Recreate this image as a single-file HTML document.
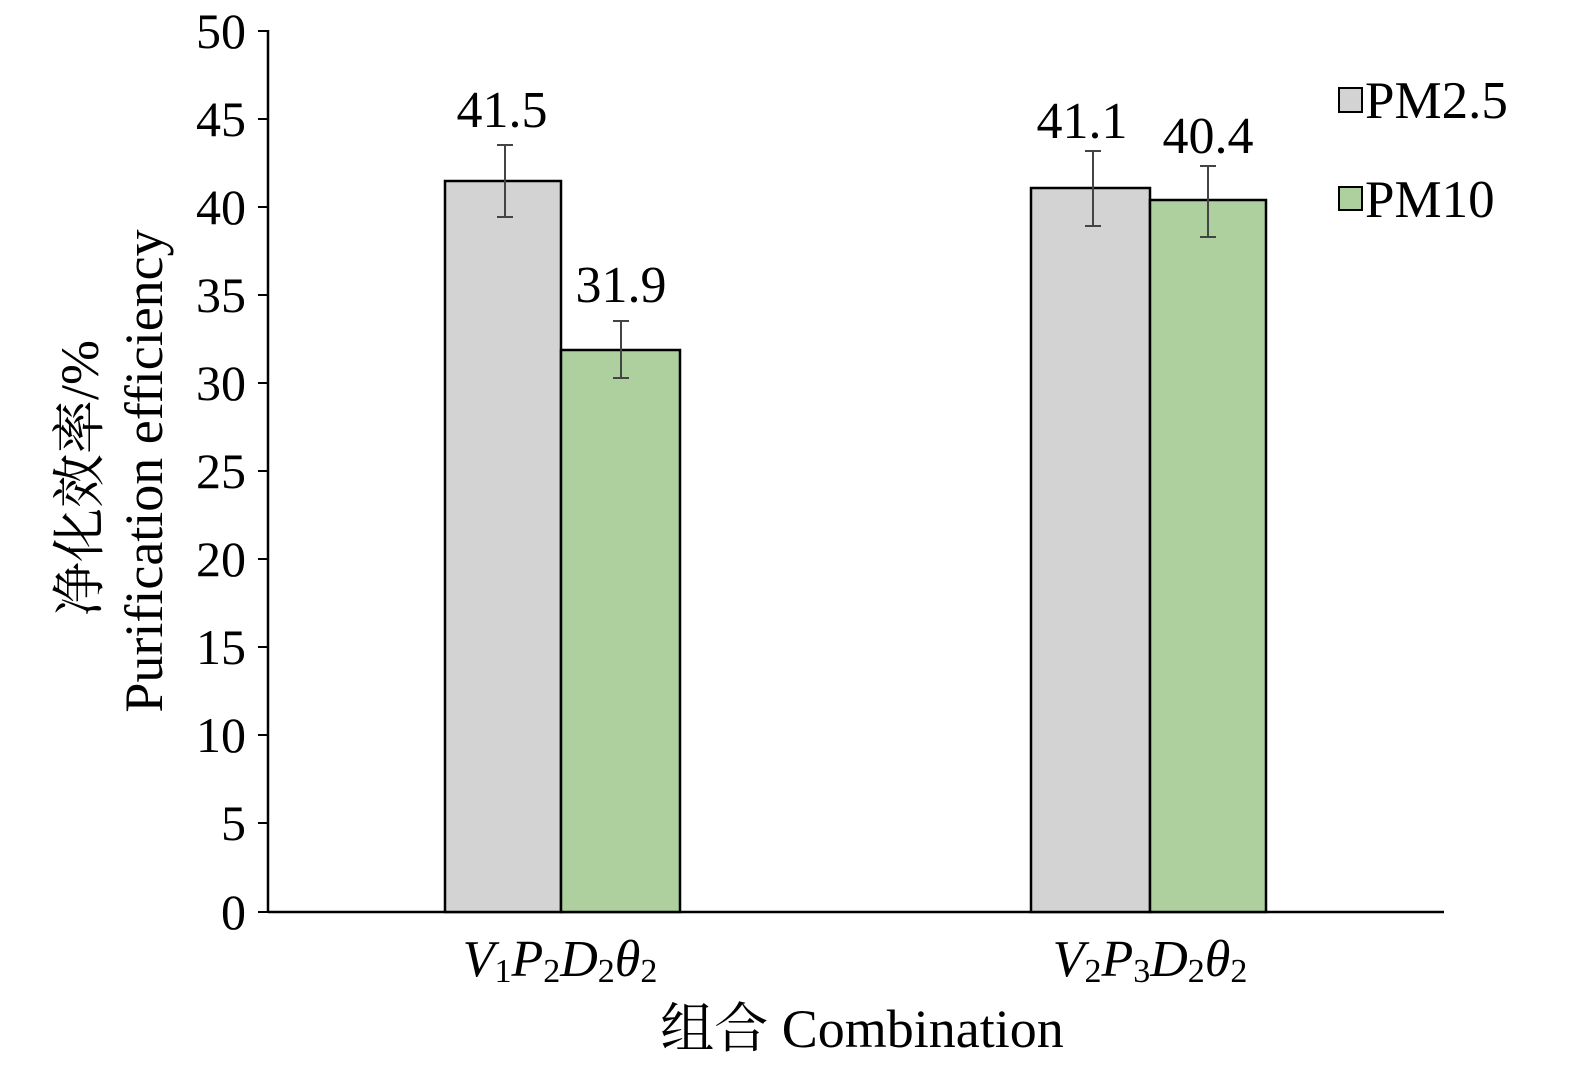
<!DOCTYPE html>
<html><head><meta charset="utf-8"><style>body{margin:0;background:#fff}</style></head><body>
<svg width="1575" height="1070" xmlns="http://www.w3.org/2000/svg" font-family="'Liberation Serif','Noto Serif CJK SC',serif">
<g stroke="#000" stroke-width="2.5" fill="none">
<line x1="268" y1="30" x2="268" y2="912"/>
<line x1="268" y1="912" x2="1444" y2="912"/>
<g stroke-width="2">
<line x1="258" y1="31" x2="268" y2="31"/><line x1="258" y1="119" x2="268" y2="119"/><line x1="258" y1="207" x2="268" y2="207"/><line x1="258" y1="295" x2="268" y2="295"/><line x1="258" y1="383" x2="268" y2="383"/><line x1="258" y1="471" x2="268" y2="471"/><line x1="258" y1="559" x2="268" y2="559"/><line x1="258" y1="647" x2="268" y2="647"/><line x1="258" y1="735" x2="268" y2="735"/><line x1="258" y1="823" x2="268" y2="823"/><line x1="258" y1="912" x2="268" y2="912"/>
</g></g>
<g font-size="50" text-anchor="end" fill="#000">
<text x="246" y="48">50</text><text x="246" y="136">45</text><text x="246" y="224">40</text><text x="246" y="312">35</text><text x="246" y="400">30</text><text x="246" y="488">25</text><text x="246" y="576">20</text><text x="246" y="664">15</text><text x="246" y="752">10</text><text x="246" y="840">5</text><text x="246" y="929">0</text>
</g>
<g stroke="#000" stroke-width="2.5">
<rect x="445" y="181" width="116" height="731" fill="#d3d3d3"/>
<rect x="561" y="350" width="119" height="562" fill="#aed09e"/>
<rect x="1031" y="188" width="119" height="724" fill="#d3d3d3"/>
<rect x="1150" y="200" width="116" height="712" fill="#aed09e"/>
</g>
<g stroke="#444" stroke-width="2">
<line x1="505" y1="145" x2="505" y2="217"/><line x1="497" y1="145" x2="513" y2="145"/><line x1="497" y1="217" x2="513" y2="217"/>
<line x1="621" y1="321" x2="621" y2="378"/><line x1="613" y1="321" x2="629" y2="321"/><line x1="613" y1="378" x2="629" y2="378"/>
<line x1="1093" y1="151" x2="1093" y2="226"/><line x1="1085" y1="151" x2="1101" y2="151"/><line x1="1085" y1="226" x2="1101" y2="226"/>
<line x1="1208" y1="166" x2="1208" y2="237"/><line x1="1200" y1="166" x2="1216" y2="166"/><line x1="1200" y1="237" x2="1216" y2="237"/>
</g>
<g font-size="52" text-anchor="middle">
<text x="502" y="127">41.5</text><text x="621" y="302">31.9</text><text x="1082" y="138">41.1</text><text x="1208" y="153">40.4</text>
</g>
<rect x="1339" y="88" width="23" height="24" fill="#d3d3d3" stroke="#000" stroke-width="2"/>
<rect x="1339" y="187" width="23" height="23" fill="#aed09e" stroke="#000" stroke-width="2"/>
<g font-size="53"><text x="1365" y="118">PM2.5</text><text x="1365" y="217">PM10</text></g>
<g font-size="52" font-style="italic" text-anchor="middle">
<text x="560" y="976">V<tspan font-size="34" font-style="normal" dy="6">1</tspan><tspan dy="-6">P</tspan><tspan font-size="34" font-style="normal" dy="6">2</tspan><tspan dy="-6">D</tspan><tspan font-size="34" font-style="normal" dy="6">2</tspan><tspan dy="-6">θ</tspan><tspan font-size="34" font-style="normal" dy="6">2</tspan></text>
<text x="1150" y="976">V<tspan font-size="34" font-style="normal" dy="6">2</tspan><tspan dy="-6">P</tspan><tspan font-size="34" font-style="normal" dy="6">3</tspan><tspan dy="-6">D</tspan><tspan font-size="34" font-style="normal" dy="6">2</tspan><tspan dy="-6">θ</tspan><tspan font-size="34" font-style="normal" dy="6">2</tspan></text>
</g>
<text x="862" y="1047" font-size="54" text-anchor="middle">组合 Combination</text>
<g font-size="54" text-anchor="middle">
<text transform="translate(98,478) rotate(-90)">净化效率/%</text>
<text transform="translate(162,471) rotate(-90)">Purification efficiency</text>
</g>
</svg>
</body></html>
